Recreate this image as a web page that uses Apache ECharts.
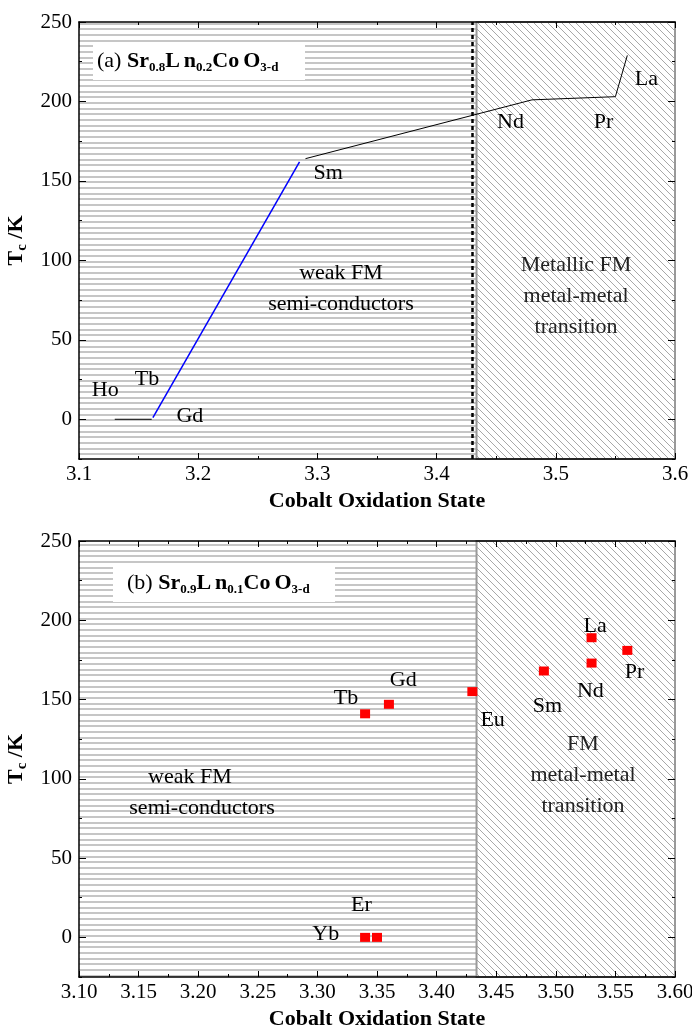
<!DOCTYPE html>
<html><head><meta charset="utf-8">
<script src="https://cdn.jsdelivr.net/npm/echarts@6/dist/echarts.min.js"></script>
<style>html,body{margin:0;padding:0;background:#fff}#c{width:692px;height:1027px}</style>
</head><body><div id="c"></div>
<script>
// ---------- Panel (a): Sr0.8Ln0.2CoO3-d ----------
const segA1 = [[3.130, 0], [3.161, 0]];                    // Ho - Tb - Gd (black)
const segA2 = [[3.162, 1], [3.285, 162]];                  // Gd -> Sm (blue)
const segA3 = [[3.290, 164], [3.480, 201], [3.550, 203], [3.560, 229]]; // Sm -> Nd -> Pr -> La
const labelNamesA = ['Ho', 'Tb', 'Gd', 'Sm', 'Nd', 'Pr', 'La'];
const labelXA = [3.122, 3.157, 3.193, 3.309, 3.462, 3.540, 3.576];
const labelYA = [18, 25, 2, 155, 187, 187, 214];
const boundaryA = 3.431;       // dashed phase boundary
const regionA = [3.4335, 3.6]; // metallic FM region

// ---------- Panel (b): Sr0.9Ln0.1CoO3-d ----------
const ionsB = ['Tb', 'Gd', 'Eu', 'Sm', 'Nd', 'La', 'Pr', 'Er', 'Yb'];
const oxB   = [3.34, 3.36, 3.43, 3.49, 3.53, 3.53, 3.56, 3.34, 3.35];
const tcB   = [141, 147, 155, 168, 173, 189, 181, 0, 0];
const labelNamesB = ['Tb', 'Gd', 'Eu', 'Sm', 'Nd', 'La', 'Pr', 'Er', 'Yb'];
const labelXB = [3.324, 3.372, 3.447, 3.493, 3.529, 3.533, 3.566, 3.337, 3.307];
const labelYB = [151, 162, 137, 146, 155, 196, 167, 20, 2];
const regionB = [3.4335, 3.6];

// ---------- axes ----------
const xRange = [3.1, 3.6];
const yRange = [-25, 250];
const yMajorTicks = [0, 50, 100, 150, 200, 250];

const SERIF = "'Liberation Serif','DejaVu Serif',serif";

function hPattern() {
  const c = document.createElement('canvas'); c.width = 4; c.height = 17;
  const g = c.getContext('2d');
  g.fillStyle = '#fff'; g.fillRect(0, 0, 4, 17);
  g.fillStyle = '#c6c6c6';
  [0, 6, 11].forEach(y => g.fillRect(0, y, 4, 2));
  return c;
}
function dPattern(s) {
  const c = document.createElement('canvas'); c.width = s; c.height = s;
  const g = c.getContext('2d');
  g.fillStyle = '#fff'; g.fillRect(0, 0, s, s);
  g.strokeStyle = '#a8a8a8'; g.lineWidth = 1;
  g.beginPath();
  g.moveTo(-1, -1); g.lineTo(s + 1, s + 1);
  g.moveTo(-1, s - 1); g.lineTo(1, s + 1);
  g.moveTo(s - 1, -1); g.lineTo(s + 1, 1);
  g.stroke();
  return c;
}
const patH = { image: hPattern(), repeat: 'repeat' };
const patD = { image: dPattern(7), repeat: 'repeat' };

const grids = [
  { left: 79, right: 17, top: 22, height: 437, show: false, outerBoundsMode: 'none' },
  { left: 79, right: 17, top: 541, height: 436, show: false, outerBoundsMode: 'none' }
];

function xAxes(gi, interval, dec) {
  const common = {
    gridIndex: gi, type: 'value', min: xRange[0], max: xRange[1], interval: interval,
    z: 10, splitLine: { show: false },
    axisLine: { show: true, onZero: false, lineStyle: { color: '#000', width: 1.5 } },
    axisTick: { show: true, inside: true, length: 6, lineStyle: { color: '#000', width: 1 } },
    minorTick: { show: true, splitNumber: 2, length: 3, lineStyle: { color: '#000', width: 1 } },
  };
  return [
    Object.assign({}, common, {
      position: 'bottom',
      axisLabel: { show: true, margin: 5, fontFamily: SERIF, fontSize: 21, color: '#000',
        formatter: v => v.toFixed(dec) },
      name: 'Cobalt Oxidation State', nameLocation: 'middle', nameGap: 31,
      nameTextStyle: { fontFamily: SERIF, fontSize: 22, fontWeight: 'bold', color: '#000' }
    }),
    Object.assign({}, common, { position: 'top', axisLabel: { show: false } })
  ];
}
function yAxes(gi) {
  const base = {
    gridIndex: gi, type: 'value', min: yRange[0], max: yRange[1], interval: 25,
    z: 10, splitLine: { show: false }
  };
  const shortTick = { show: true, inside: true, length: 3, lineStyle: { color: '#000', width: 1 } };
  const longTick = { show: true, inside: true, length: 7, customValues: yMajorTicks,
    lineStyle: { color: '#000', width: 1 } };
  return [
    Object.assign({}, base, {
      position: 'left',
      axisLine: { show: true, onZero: false, lineStyle: { color: '#000', width: 1.5 } },
      axisTick: shortTick,
      axisLabel: { show: true, margin: 7, fontFamily: SERIF, fontSize: 21, color: '#000',
        customValues: yMajorTicks },
      name: '{b|T}{s|c}{b| /K}', nameLocation: 'middle', nameGap: 44, nameRotate: 90,
      nameTextStyle: {
        rich: {
          b: { fontFamily: SERIF, fontSize: 22, fontWeight: 'bold', color: '#000', verticalAlign: 'middle', lineHeight: 26 },
          s: { fontFamily: SERIF, fontSize: 15, fontWeight: 'bold', color: '#000', verticalAlign: 'bottom', lineHeight: 14 }
        }
      }
    }),
    Object.assign({}, base, { position: 'left', axisLine: { show: false }, axisTick: longTick, axisLabel: { show: false } }),
    Object.assign({}, base, {
      position: 'right',
      axisLine: { show: true, onZero: false, lineStyle: { color: '#999', width: 1.5 } },
      axisTick: shortTick, axisLabel: { show: false }
    }),
    Object.assign({}, base, { position: 'right', axisLine: { show: false }, axisTick: longTick, axisLabel: { show: false } })
  ];
}

const textLabel = (size, color) => ({
  show: true, position: 'inside', formatter: '{b}', fontFamily: SERIF, fontSize: size,
  color: color || '#000', textBorderWidth: 0, textBorderColor: 'transparent', lineHeight: 31
});

function background(xi, yi, leftEnd, region, dashed) {
  const s = {
    type: 'line', xAxisIndex: xi, yAxisIndex: yi, data: [], z: 1, silent: true,
    markArea: {
      silent: true, label: { show: false },
      data: [
        [{ xAxis: xRange[0], itemStyle: { color: patH, opacity: 1, borderWidth: 0 } }, { xAxis: leftEnd }],
        [{ xAxis: region[0], itemStyle: { color: patD, opacity: 1, borderColor: '#9a9a9a', borderWidth: 2 } }, { xAxis: region[1] }]
      ]
    }
  };
  if (dashed != null) {
    s.markLine = {
      silent: true, symbol: ['none', 'none'], label: { show: false },
      lineStyle: { color: '#000', type: [4, 3], width: 2.5, opacity: 1 },
      data: [{ xAxis: dashed }]
    };
  }
  return s;
}

const annA = labelNamesA.map((n, i) => ({ name: n, value: [labelXA[i], labelYA[i]] }));
const annB = labelNamesB.map((n, i) => ({ name: n, value: [labelXB[i], labelYB[i]] }));
const ptsB = ionsB.map((n, i) => ({ name: n, value: [oxB[i], tcB[i]] }));

const richTitle = {
  n: { fontFamily: SERIF, fontSize: 22, fill: '#000', verticalAlign: 'middle', lineHeight: 26 },
  b: { fontFamily: SERIF, fontSize: 22, fontWeight: 'bold', fill: '#000', verticalAlign: 'middle', lineHeight: 26 },
  bp: { fontFamily: SERIF, fontSize: 22, fontWeight: 'bold', fill: '#000', verticalAlign: 'middle', lineHeight: 26, padding: [0, 4, 0, 0] },
  s: { fontFamily: SERIF, fontSize: 13, fontWeight: 'bold', fill: '#000', verticalAlign: 'bottom', lineHeight: 12 }
};

const option = {
  animation: false,
  backgroundColor: '#fff',
  grid: grids,
  xAxis: [...xAxes(0, 0.1, 1), ...xAxes(1, 0.05, 2)],
  yAxis: [...yAxes(0), ...yAxes(1)],
  graphic: [
    { type: 'rect', shape: { x: 93, y: 42, width: 212, height: 38 }, style: { fill: '#fff' }, z: 20 },
    { type: 'text', x: 97, y: 61, z: 21, style: {
        text: '{n|(a) }{b|Sr}{s|0.8}{bp|L}{b|n}{s|0.2}{bp|Co}{b|O}{s|3-d}',
        verticalAlign: 'middle', rich: richTitle } },
    { type: 'rect', shape: { x: 113, y: 563, width: 222, height: 39 }, style: { fill: '#fff' }, z: 20 },
    { type: 'text', x: 127, y: 583, z: 21, style: {
        text: '{n|(b) }{b|Sr}{s|0.9}{bp|L}{b|n}{s|0.1}{bp|Co}{b|O}{s|3-d}',
        verticalAlign: 'middle', rich: richTitle } }
  ],
  series: [
    background(0, 0, regionA[0], regionA, boundaryA),
    { type: 'line', xAxisIndex: 0, yAxisIndex: 0, data: segA1, showSymbol: false, symbol: 'none', z: 3,
      lineStyle: { color: '#000', width: 1, opacity: 1 }, silent: true },
    { type: 'line', xAxisIndex: 0, yAxisIndex: 0, data: segA2, showSymbol: false, symbol: 'none', z: 3,
      lineStyle: { color: '#0000ff', width: 1.5, opacity: 1 }, silent: true },
    { type: 'line', xAxisIndex: 0, yAxisIndex: 0, data: segA3, showSymbol: false, symbol: 'none', z: 3,
      lineStyle: { color: '#000', width: 1, opacity: 1 }, silent: true },
    { type: 'scatter', xAxisIndex: 0, yAxisIndex: 0, symbolSize: 0, z: 4, silent: true,
      itemStyle: { color: '#000', opacity: 1 },
      label: textLabel(22), data: annA.concat([
        { name: 'weak FM\nsemi-conductors', value: [3.3198, 82] },
        { name: 'Metallic FM\nmetal-metal\ntransition', value: [3.517, 77.5], label: { color: '#222' } }
      ]) },

    background(2, 4, regionB[0], regionB, null),
    { type: 'scatter', xAxisIndex: 2, yAxisIndex: 4, symbol: 'rect', symbolSize: [10, 9], z: 3,
      itemStyle: { color: '#ff0000', opacity: 1 }, data: ptsB, silent: true },
    { type: 'scatter', xAxisIndex: 2, yAxisIndex: 4, symbolSize: 0, z: 4, silent: true,
      itemStyle: { color: '#000', opacity: 1 },
      label: textLabel(22), data: annB.concat([
        { name: 'weak FM', value: [3.1931, 101] },
        { name: 'semi-conductors', value: [3.2032, 81.4] },
        { name: 'FM\nmetal-metal\ntransition', value: [3.5228, 102.3], label: { color: '#222' } }
      ]) }
  ]
};

const chart = echarts.init(document.getElementById('c'), null, { renderer: 'canvas' });
chart.setOption(option);
</script>
</body></html>
